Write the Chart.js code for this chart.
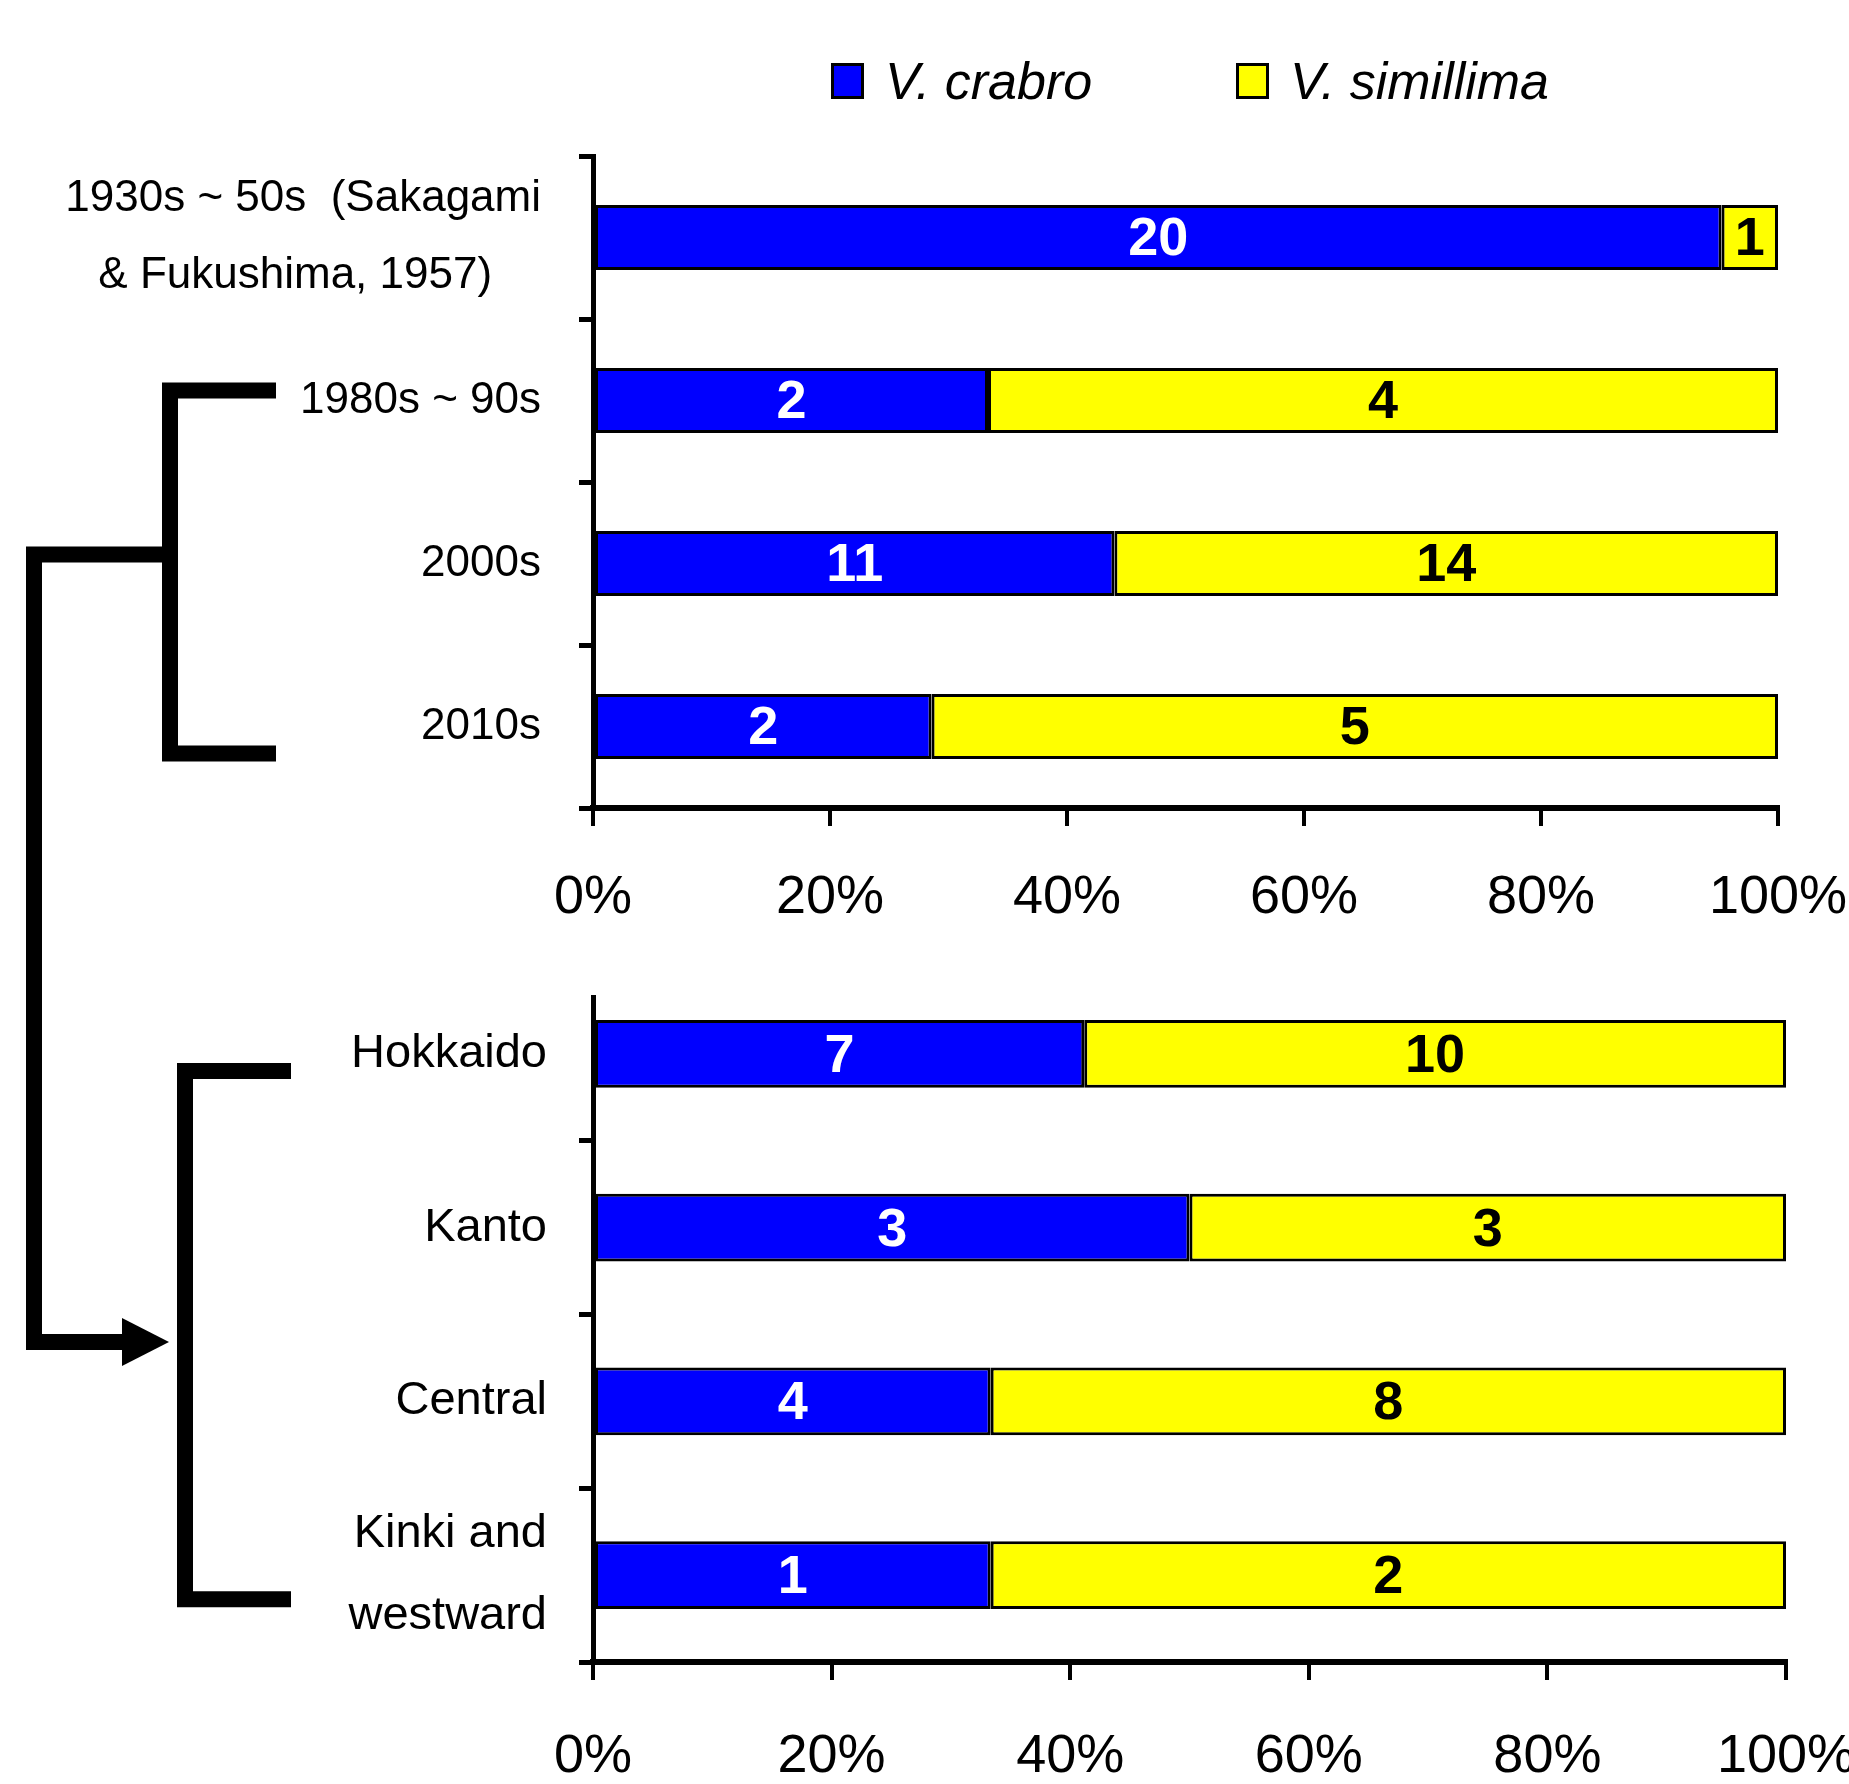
<!DOCTYPE html>
<html>
<head>
<meta charset="utf-8">
<script src="https://cdn.jsdelivr.net/npm/chart.js@4.4.1/dist/chart.umd.min.js"></script>
<style>
  html, body { margin: 0; padding: 0; background: #fff; }
  body { width: 1849px; height: 1784px; position: relative; overflow: hidden; }
  canvas { position: absolute; left: 0; }
  #legend { position: absolute; top: 52px; left: 0; font: italic 52px "Liberation Sans", Arial, sans-serif; }
  .item { position: absolute; top: 0; white-space: nowrap; line-height: 58px; }
  .box { position: absolute; top: 11px; width: 27px; height: 30px; border: 3px solid #000; }
</style>
</head>
<body>
<div id="legend"></div>
<canvas id="topChart" width="1849" height="950" style="top:0"></canvas>
<canvas id="bottomChart" width="1849" height="844" style="top:940px"></canvas>
<canvas id="overlay" width="1849" height="1784" style="top:0;pointer-events:none"></canvas>
<script>
// categories
const periodLabels = [["1930s ~ 50s  (Sakagami", "& Fukushima, 1957)    "], "1980s ~ 90s", "2000s", "2010s"];
const regionLabels = ["Hokkaido", "Kanto", "Central", ["Kinki and", "westward"]];

// series (number of nests)
const seriesNames = ["V. crabro", "V. simillima"];
const seriesColors = ["#0000ff", "#ffff00"];
const labelColors = ["#ffffff", "#000000"];
const crabroPeriod = [20, 2, 11, 2];
const simillimaPeriod = [1, 4, 14, 5];
const crabroRegion = [7, 3, 4, 1];
const simillimaRegion = [10, 3, 8, 2];

// x axis ticks
const xTicks = [0, 20, 40, 60, 80, 100];

Chart.defaults.font.family = '"Liberation Sans", Arial, sans-serif';
Chart.defaults.color = "#000";

function toPercent(a, b) {
  return a.map((v, i) => (v / (v + b[i])) * 100);
}

// write counts inside each bar segment
const countLabels = {
  id: "countLabels",
  afterDatasetsDraw(chart) {
    const ctx = chart.ctx;
    ctx.save();
    ctx.font = "bold 54px 'Liberation Sans', Arial, sans-serif";
    ctx.textAlign = "center";
    ctx.textBaseline = "middle";
    chart.data.datasets.forEach((ds, di) => {
      chart.getDatasetMeta(di).data.forEach((bar, i) => {
        const p = bar.getProps(["x", "base", "y"], true);
        ctx.fillStyle = labelColors[di];
        ctx.fillText(ds.counts[i], (p.x + p.base) / 2, p.y + 3);
      });
    });
    ctx.restore();
  }
};

// y axis line that starts a little below the top of the plot (bottom panel)
const shortAxis = {
  id: "shortAxis",
  afterDraw(chart, args, o) {
    if (!o.gap) return;
    const ctx = chart.ctx, a = chart.chartArea;
    ctx.save();
    ctx.strokeStyle = "#000";
    ctx.lineWidth = 5;
    ctx.beginPath();
    ctx.moveTo(a.left + 0.5, a.top + o.gap);
    ctx.lineTo(a.left + 0.5, a.bottom);
    ctx.stroke();
    ctx.restore();
  }
};

function makeChart(id, labels, a, b, opt) {
  return new Chart(document.getElementById(id), {
    type: "bar",
    data: {
      labels: labels,
      datasets: [
        { label: seriesNames[0], data: toPercent(a, b), counts: a, backgroundColor: seriesColors[0] },
        { label: seriesNames[1], data: toPercent(b, a), counts: b, backgroundColor: seriesColors[1] }
      ]
    },
    options: {
      indexAxis: "y",
      responsive: false,
      animation: false,
      devicePixelRatio: 1,
      events: [],
      layout: { padding: opt.padding },
      datasets: {
        bar: {
          borderColor: "#000",
          borderWidth: 3,
          borderSkipped: false,
          barPercentage: opt.barPct,
          categoryPercentage: 1
        }
      },
      plugins: {
        legend: { display: false },
        tooltip: { enabled: false },
        shortAxis: { gap: opt.axisGap }
      },
      scales: {
        x: {
          stacked: true,
          min: 0,
          max: 100,
          afterBuildTicks: s => { s.ticks = xTicks.map(v => ({ value: v })); },
          afterFit: s => { s.height = 120; s.paddingLeft = 0; s.paddingRight = 0; },
          border: { color: "#000", width: 6 },
          grid: { drawOnChartArea: false, color: "#000", lineWidth: 4, tickLength: 18 },
          ticks: {
            padding: opt.xPad,
            font: { size: 54 },
            callback: v => v + "%",
            maxRotation: 0,
            autoSkip: false
          }
        },
        y: {
          stacked: true,
          offset: true,
          afterFit: s => { s.width = 593; s.paddingTop = 0; s.paddingBottom = 0; },
          border: { color: opt.axisGap ? "rgba(0,0,0,0)" : "#000", width: 5 },
          grid: {
            offset: true,
            drawOnChartArea: false,
            lineWidth: 5,
            tickLength: 14,
            color: c => (opt.axisGap && c.index === 0 ? "rgba(0,0,0,0)" : "#000")
          },
          ticks: { padding: opt.yPad, font: opt.yFont, autoSkip: false }
        }
      }
    },
    plugins: [countLabels, shortAxis]
  });
}

const topChart = makeChart("topChart", periodLabels, crabroPeriod, simillimaPeriod, {
  padding: { top: 156, bottom: 22, left: 0, right: 71 },
  barPct: 0.4,
  xPad: 40,
  yPad: 38,
  yFont: { size: 44, lineHeight: 1.75 },
  axisGap: 0
});

const bottomChart = makeChart("bottomChart", regionLabels, crabroRegion, simillimaRegion, {
  padding: { top: 27, bottom: 2, left: 0, right: 63 },
  barPct: 0.39,
  xPad: 45,
  yPad: 32,
  yFont: { size: 47, lineHeight: 1.76 },
  axisGap: 28
});

// legend built from the series
const legend = document.getElementById("legend");
const legendX = [831, 1236];
seriesNames.forEach((name, i) => {
  const item = document.createElement("div");
  item.className = "item";
  item.style.left = legendX[i] + "px";
  item.innerHTML = '<span class="box" style="background:' + seriesColors[i] + '"></span>' +
    '<span style="margin-left:54px">' + name + "</span>";
  legend.appendChild(item);
});

// bracket tree linking the two panels, placed from the category scales
const ov = document.getElementById("overlay").getContext("2d");
const ty = i => topChart.scales.y.getPixelForValue(i);
const by = i => bottomChart.scales.y.getPixelForValue(i) + 940;
ov.strokeStyle = "#000";
ov.fillStyle = "#000";
ov.lineWidth = 16;
ov.lineJoin = "miter";

const a1 = ty(1) - 10, a2 = ty(3) + 27, mid = ty(2) - 9;
ov.beginPath();
ov.moveTo(276, a1); ov.lineTo(170, a1); ov.lineTo(170, a2); ov.lineTo(276, a2);
ov.stroke();

const b1 = by(0) + 17, b2 = by(3) + 24, arrowY = (b1 + b2) / 2 + 7;
ov.beginPath();
ov.moveTo(291, b1); ov.lineTo(185, b1); ov.lineTo(185, b2); ov.lineTo(291, b2);
ov.stroke();

ov.beginPath();
ov.moveTo(170, mid); ov.lineTo(34, mid); ov.lineTo(34, arrowY); ov.lineTo(124, arrowY);
ov.stroke();

ov.beginPath();
ov.moveTo(122, arrowY - 24); ov.lineTo(169, arrowY); ov.lineTo(122, arrowY + 24);
ov.closePath();
ov.fill();
</script>
</body>
</html>
